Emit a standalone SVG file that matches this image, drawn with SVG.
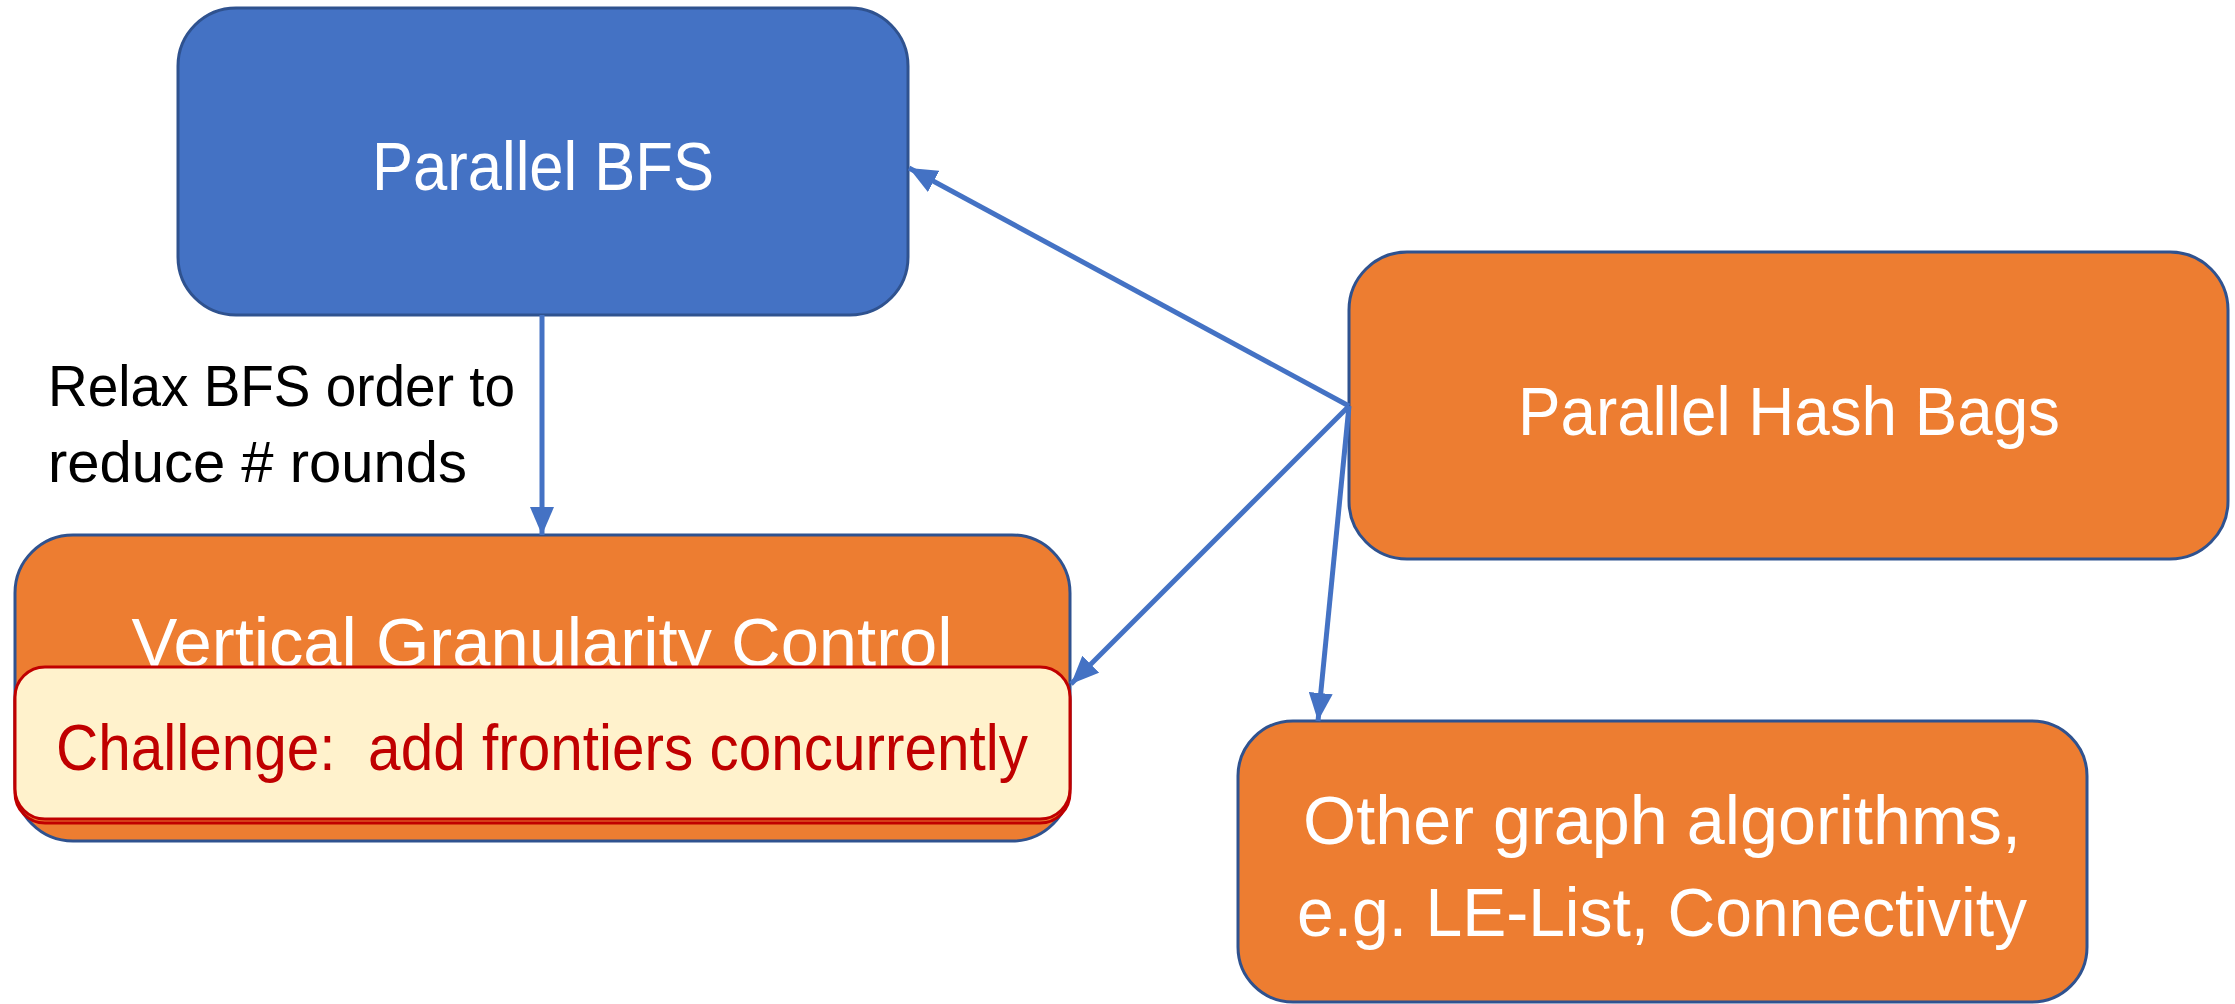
<svg xmlns="http://www.w3.org/2000/svg" width="2235" height="1004" viewBox="0 0 2235 1004">
<style>
.blue{fill:#4472C4;stroke:#2F528F;stroke-width:3}
.orange{fill:#ED7D31;stroke:#2F528F;stroke-width:3}
.chal{fill:#FFF2CC;stroke:#C00000;stroke-width:3}
.t{font-family:"Liberation Sans",Arial,sans-serif;font-size:68px;fill:#FFFFFF;text-anchor:middle}
.ct{font-family:"Liberation Sans",Arial,sans-serif;font-size:65px;fill:#C00000;text-anchor:middle;white-space:pre}
.lbl{font-family:"Liberation Sans",Arial,sans-serif;font-size:57px;fill:#000000}
.conn{stroke:#4472C4;stroke-width:5;fill:none}
</style>
<defs>
<marker id="arr" markerUnits="userSpaceOnUse" markerWidth="30" markerHeight="24" refX="28" refY="12" orient="auto">
<path d="M0,0 L28,12 L0,24 Z" fill="#4472C4"/>
</marker>
</defs>
<rect width="2235" height="1004" fill="#FFFFFF"/>
<g id="node-parallel-bfs">
<rect class="blue" x="178" y="8" width="730" height="307" rx="58" ry="58"/>
<text class="t" x="543" y="190" textLength="342" lengthAdjust="spacingAndGlyphs">Parallel BFS</text>
</g>
<g id="node-hash-bags">
<rect class="orange" x="1349" y="252" width="879" height="307" rx="58" ry="58"/>
<text class="t" x="1789" y="435" textLength="542" lengthAdjust="spacingAndGlyphs">Parallel Hash Bags</text>
</g>
<g id="node-vertical">
<rect class="orange" x="15" y="535" width="1055" height="306" rx="58" ry="58"/>
<text class="t" x="542" y="666" textLength="821" lengthAdjust="spacingAndGlyphs">Vertical Granularity Control</text>
</g>
<g id="node-challenge">
<rect x="15" y="670" width="1055" height="153" rx="30" ry="30" fill="none" stroke="#C00000" stroke-width="3"/>
<rect class="chal" x="15" y="667" width="1055" height="152" rx="30" ry="30"/>
<text class="ct" x="542" y="770" textLength="972" lengthAdjust="spacingAndGlyphs" xml:space="preserve">Challenge:  add frontiers concurrently</text>
</g>
<g id="node-other">
<rect class="orange" x="1238" y="721" width="849" height="281" rx="55" ry="55"/>
<text class="t" x="1662" y="844" textLength="718" lengthAdjust="spacingAndGlyphs">Other graph algorithms,</text>
<text class="t" x="1662" y="936" textLength="730" lengthAdjust="spacingAndGlyphs">e.g. LE-List, Connectivity</text>
</g>
<g id="connectors">
<line class="conn" x1="542" y1="315" x2="542" y2="535" marker-end="url(#arr)"/>
<line class="conn" x1="1349" y1="406" x2="909" y2="168" marker-end="url(#arr)"/>
<line class="conn" x1="1349" y1="406" x2="1071" y2="684" marker-end="url(#arr)"/>
<line class="conn" x1="1349" y1="406" x2="1318" y2="721" marker-end="url(#arr)"/>
<text class="lbl" x="48" y="406" textLength="467" lengthAdjust="spacingAndGlyphs">Relax BFS order to</text>
<text class="lbl" x="48" y="482" textLength="419" lengthAdjust="spacingAndGlyphs">reduce # rounds</text>
</g>
</svg>
